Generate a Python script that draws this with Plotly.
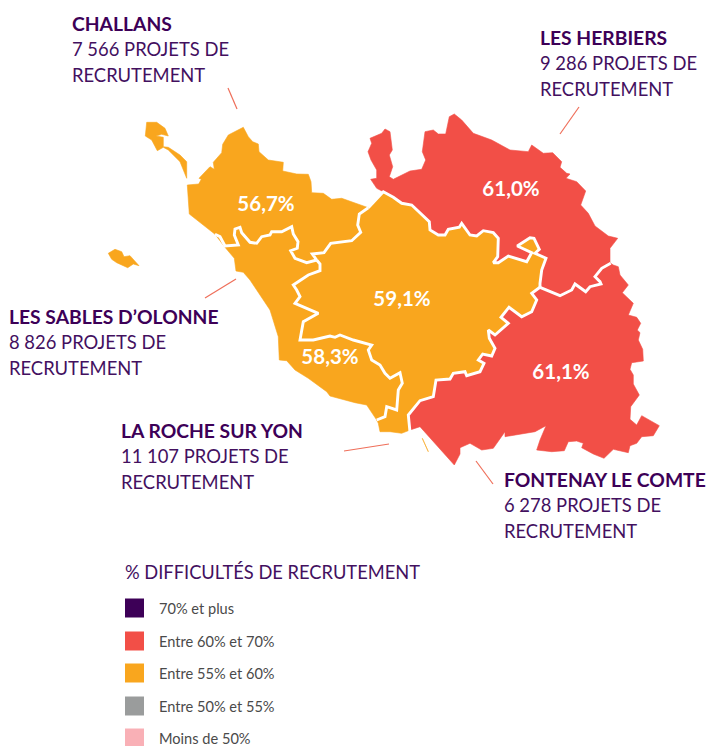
import plotly.graph_objects as go

# Shared borders and coast segments of the map (image-space outline data)
COAST_CHALLANS = [(187.3,185),(198.7,184),(201.3,179.3),(199,178.3),(210,166.7),(214.3,169.3),(213.3,162.3),(221.7,152.7),(222.7,144.3),(228.3,135),(243.3,127.3),(248.3,136.7),(252.7,141.7),(258.3,144),(259,151.7),(268.3,160),(283.3,162.3),(282.7,171),(296.7,174),(308.3,174.3),(311,181.7),(311.7,192.7),(323.3,193.3),(331.7,199.3),(341.7,198.3),(353.3,202.3),(368.3,207.7)]
B_CHALLANS_ROCHE = [(359.3,214),(357.7,225),(360.7,232.3),(351.7,240.7),(330.7,243.3),(324,252.7),(312.3,254),(316.7,260)]
B_CHALLANS_SABLES = [(306.7,262.7),(295,258.3),(290.7,250.7),(297.3,248.3),(298,241.7),(293.3,234),(291.7,226.7),(281.7,231.7),(271.7,231.7),(270,235),(261.7,236.7),(256.7,243.3),(250,242.3),(241.7,232.7),(240,227.3),(235,229),(234.3,235),(238.3,245),(225,246),(220,236.7),(215,234.3)]
COAST_CHALLANS_W = [(189.3,214)]
COAST_SABLES = [(225,247.3),(234.3,258.3),(236,271),(243.3,272.3),(250,280),(256.7,290),(263.3,300),(270,310),(278.3,336.7),(279.3,360),(286.7,360.7),(295,370),(308.3,378.3),(326.7,391.7),(330,396),(355,402.7),(366.7,405)]
B_SABLES_ROCHE = [(320,264),(320,270.7),(308.3,275),(293.3,285),(296.7,290),(300,296.7),(295,303.3),(318.3,313.3),(303.3,321.7),(300,340),(313.3,340),(330,336),(335,337.3),(340,335),(353.3,340),(371.7,345),(368.3,350),(371.7,360),(380,365),(385,373.3),(390,378.3),(400,372.7),(402.3,383.3),(398.3,390),(396.7,410),(386.7,406.7),(385,416.7),(376.7,420)]
COAST_ROCHE = [(378.3,423.3),(380,431.7),(390,431.7),(401.7,433.3),(410,430)]
B_ROCHE_FONTENAY = [(408.3,415),(420,400.7),(433.3,396.7),(436,380),(450,379),(453.3,373.3),(465,371.7),(466.7,375.7),(480,371.7),(484,363.3),(478.3,360),(482.7,354),(491.7,356),(495,348.3),(489.3,338.3),(488.3,330),(495,335),(508.3,323.3),(501,317.3),(509,307.3),(521.7,316.7),(531.7,311.7),(536.7,300),(531.7,293.3),(540,287.3)]
B_HERBIERS_FONTENAY = [(560,295.7),(571.7,290),(575,284),(585.7,291.7),(590,286.7),(601,284),(600,281.7),(595,276.7),(601.7,268.3),(610.7,263.3)]
COAST_HERBIERS = [(383.3,191.7),(376.7,188.3),(370.7,179.3),(376.7,178.3),(376.7,170),(371,160),(368,151.7),(371.7,143.3),(370,138.3),(381.7,133.3),(385,129),(390,131.7),(392.3,150),(389.3,155),(392.7,166.7),(389.3,176.7),(393.3,179.3),(410,171),(421.7,169.3),(425.7,160),(422.3,151.7),(425,131.7),(433.3,130),(438.3,134),(445.7,134),(449.3,116.7),(454.3,114),(461.7,120),(473.3,133.3),(491.7,140),(510,150),(528.3,151.7),(531.7,145),(543.3,153.3),(552.7,152.7),(561.7,161.7),(560,167.3),(566.7,173.3),(570,174),(566,178.3),(576.7,181.7),(585.7,191),(580.7,205),(588.3,213.3),(595,226),(608.3,236),(617.7,238.3),(610,248.3),(610,263.3)]
B_HERBIERS_ROCHE = [(393.3,197.3),(401.7,203.3),(411.7,205),(429.3,221.7),(430,230),(438.3,235),(445,235),(448.3,229.3),(459.3,227.3),(461.7,223.3),(470,235),(476.7,236),(483.3,230.7),(493.3,232.7),(498.3,238.3),(497.7,256.7),(493.3,262.7),(498.3,262.7),(508.3,256),(526.7,261.7),(531.7,252.7),(517.3,246),(530,237.7),(534,238.3),(539.3,249.3),(535,253.3),(546,258.3),(541.7,270),(540,283.3)]
COAST_FONTENAY = [(613.3,265),(618.3,266.7),(620,275),(628.3,285),(622.3,292.7),(633.3,303.3),(628.3,315),(636.7,317.3),(640.7,323.3),(637.3,330),(640,332.7),(638.3,340),(642.7,349.3),(643.3,361),(631.7,362.7),(630,369.3),(633.3,375),(633.3,384),(639.3,395),(630.7,406.7),(630,419.3),(636.7,425),(641.7,415.7),(659.3,425.7),(653.3,435.7),(641.7,436.7),(636.7,443.3),(630,445.7),(628.3,452.7),(613.3,449.3),(604,458.3),(593.3,454),(581.7,447.7),(583.3,443.3),(576.7,441),(568.3,441.7),(564.3,450.7),(551.7,451.7),(536.7,450),(540,440),(546,425.7),(535,431.7),(505,436.7),(505,431.7),(493.3,448.3),(481.7,450),(470,443.3),(460,447.7),(460,454),(454.3,465),(420,426.7)]
ISLAND_NOIRMOUTIER = [(146.7,122.3),(156.7,122.3),(165,128.3),(168.3,136),(161.7,134.3),(156,136),(163.3,137.3),(163.3,146.7),(168.3,147.3),(180,155),(186.7,161.7),(186.7,178.3),(180,161.7),(168.3,150),(163.3,147.3),(157.3,150.7),(151.7,140),(145.3,136)]
ISLAND_YEU = [(108.3,253.3),(115,249.3),(121.7,251.7),(124,256.7),(130,255.7),(139,265.7),(133.3,264),(127.7,267.7),(116.7,262.7),(111.7,259.3)]
SLIVER = [(422.3,438.3),(428.3,451.7),(424,443.3)]

def rev(s):
    return list(reversed(s))

REGION_CHALLANS = COAST_CHALLANS + B_CHALLANS_ROCHE + B_CHALLANS_SABLES + COAST_CHALLANS_W
REGION_SABLES = [(316.7,260)] + B_CHALLANS_SABLES + COAST_SABLES + rev(B_SABLES_ROCHE)
REGION_ROCHE = [(368.3,207.7)] + B_CHALLANS_ROCHE + B_SABLES_ROCHE + COAST_ROCHE + B_ROCHE_FONTENAY + rev(B_HERBIERS_ROCHE) + [(383.3,191.7)]
REGION_HERBIERS = COAST_HERBIERS + rev(B_HERBIERS_FONTENAY) + [(540,287.3)] + rev(B_HERBIERS_ROCHE)
REGION_FONTENAY = [(540,287.3)] + B_HERBIERS_FONTENAY + COAST_FONTENAY + COAST_ROCHE[-1:] + B_ROCHE_FONTENAY

BORDERS = [
    [(368.3,207.7)] + B_CHALLANS_ROCHE,
    [(316.7,260)] + B_CHALLANS_SABLES,
    [(316.7,260)] + B_SABLES_ROCHE,
    [(410,432)] + B_ROCHE_FONTENAY,
    [(540,287.3)] + B_HERBIERS_FONTENAY,
    [(368.3,207.7),(383.3,191.7)] + B_HERBIERS_ROCHE + [(540,287.3)],
]

ORANGE, RED = "#F9A61E", "#F24F47"
REGIONS = [(REGION_CHALLANS, ORANGE), (REGION_SABLES, ORANGE), (REGION_ROCHE, ORANGE),
           (REGION_HERBIERS, RED), (REGION_FONTENAY, RED),
           (ISLAND_NOIRMOUTIER, ORANGE), (ISLAND_YEU, ORANGE), (SLIVER, ORANGE)]

PCT_LABELS = ["56,7%", "61,0%", "59,1%", "58,3%", "61,1%"]
PCT_X = [266, 511, 402, 330, 561]
PCT_Y = [205.5, 190.5, 300.5, 358.5, 373.5]

AREA_NAMES = ["CHALLANS", "LES HERBIERS", "LES SABLES D’OLONNE", "LA ROCHE SUR YON", "FONTENAY LE COMTE"]
AREA_COUNTS = ["7 566 PROJETS DE", "9 286 PROJETS DE", "8 826 PROJETS DE", "11 107 PROJETS DE", "6 278 PROJETS DE"]
AREA_X = [70, 538, 7, 119, 502]
AREA_Y = [23, 37, 316, 430, 479]
LEADERS = [((228,88),(237,109)), ((579,107),(560,134)), ((236,279),(205,298)), ((389,444),(344,451)), ((476,461),(493,484))]

LEGEND_TITLE = "% DIFFICULTÉS DE RECRUTEMENT"
LEGEND_LABELS = ["70% et plus", "Entre 60% et 70%", "Entre 55% et 60%", "Entre 50% et 55%", "Moins de 50%"]
LEGEND_COLORS = ["#3D0057", RED, ORANGE, "#9A9C9C", "#F9B0B6"]
LEGEND_Y = [608, 641, 673, 706, 738]

PURPLE = "#43105F"
FONT = "Lato"
fig = go.Figure()

for pts, col in REGIONS:
    fig.add_trace(go.Scatter(x=[p[0] for p in pts]+[pts[0][0]], y=[p[1] for p in pts]+[pts[0][1]],
                             mode="lines", fill="toself", fillcolor=col,
                             line=dict(color=col, width=0.6), hoverinfo="skip"))
for pts in BORDERS:
    fig.add_trace(go.Scatter(x=[p[0] for p in pts], y=[p[1] for p in pts], mode="lines",
                             line=dict(color="white", width=2.9), hoverinfo="skip"))
for a, b in LEADERS:
    fig.add_trace(go.Scatter(x=[a[0], b[0]], y=[a[1], b[1]], mode="lines",
                             line=dict(color="#EF6F5A", width=1.2), hoverinfo="skip"))
fig.add_trace(go.Scatter(x=PCT_X, y=PCT_Y, mode="text", text=PCT_LABELS,
                         textposition="middle center", hoverinfo="skip",
                         textfont=dict(family=FONT, size=20.5, color="white", weight="bold")))
fig.add_trace(go.Scatter(x=[134.5]*5, y=LEGEND_Y, mode="markers", hoverinfo="skip",
                         marker=dict(symbol="square", size=19, color=LEGEND_COLORS, line=dict(width=0))))

def note(x, y, text, size, color, bold=False):
    fig.add_annotation(x=x, y=y, text=f"<b>{text}</b>" if bold else text, showarrow=False,
                       xanchor="left", yanchor="middle", xref="x", yref="y",
                       font=dict(family=FONT, size=size, color=color))

for name, cnt, x, y in zip(AREA_NAMES, AREA_COUNTS, AREA_X, AREA_Y):
    note(x, y, name, 19.3, "#3D0057", True)
    note(x, y+26, cnt, 18.4, PURPLE)
    note(x, y+51.5, "RECRUTEMENT", 18.4, PURPLE)
note(123, 572, LEGEND_TITLE, 18.3, PURPLE)
for lab, y in zip(LEGEND_LABELS, LEGEND_Y):
    note(157, y, lab, 14.6, "#4A4A4A")

fig.update_layout(width=708, height=746, margin=dict(l=0, r=0, t=0, b=0), showlegend=False,
                  paper_bgcolor="white", plot_bgcolor="white",
                  xaxis=dict(range=[0, 708], visible=False, fixedrange=True),
                  yaxis=dict(range=[746, 0], visible=False, fixedrange=True))
fig.write_html("out.html", config={"displayModeBar": False},
               post_script="document.body.style.margin='0';document.documentElement.style.overflow='hidden';")
